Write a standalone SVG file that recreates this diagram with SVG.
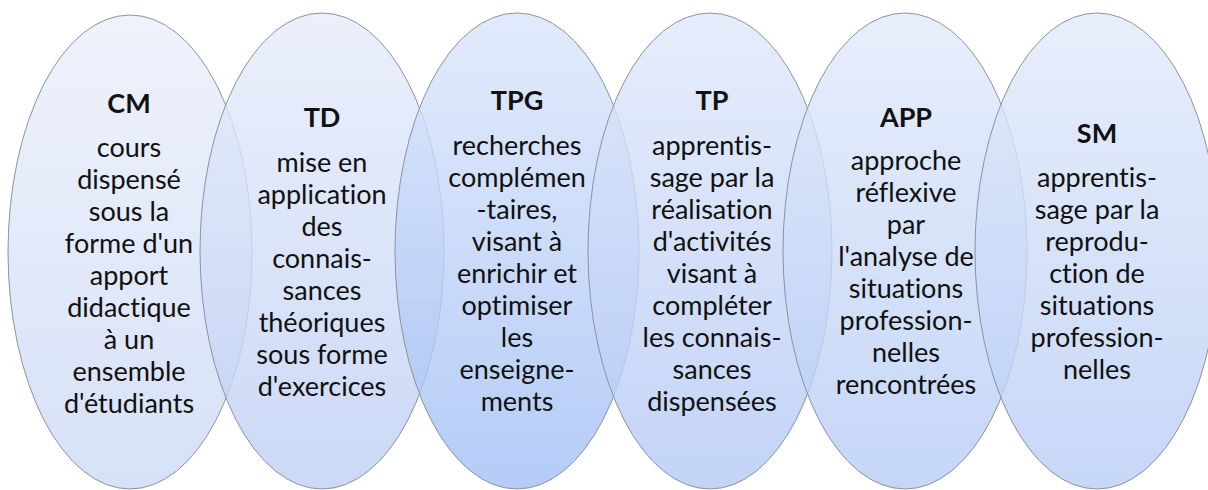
<svg xmlns="http://www.w3.org/2000/svg" width="1208" height="490" viewBox="0 0 1208 490">
<style>
.e{stroke:#8c939d;stroke-width:1;fill-opacity:0.8}
.t{font-family:Lato,"Liberation Sans",sans-serif;font-size:27px;fill:#111;text-anchor:middle;font-variant-ligatures:none;font-feature-settings:"liga" 0,"clig" 0,"dlig" 0,"calt" 0}
.h{font-weight:bold}
</style>
<defs>
<linearGradient id="g1" x1="0" y1="0" x2="0" y2="1"><stop offset="0" stop-color="#eaeffa"/><stop offset="1" stop-color="#ccd9f5"/></linearGradient>
<linearGradient id="g2" x1="0" y1="0" x2="0" y2="1"><stop offset="0" stop-color="#e6ecfa"/><stop offset="1" stop-color="#becff4"/></linearGradient>
<linearGradient id="g3" x1="0" y1="0" x2="0" y2="1"><stop offset="0" stop-color="#dbe6fb"/><stop offset="1" stop-color="#a2bff5"/></linearGradient>
<linearGradient id="g4" x1="0" y1="0" x2="0" y2="1"><stop offset="0" stop-color="#e0e8fa"/><stop offset="1" stop-color="#b4c9f5"/></linearGradient>
<linearGradient id="g5" x1="0" y1="0" x2="0" y2="1"><stop offset="0" stop-color="#e2eafa"/><stop offset="1" stop-color="#b6ccf5"/></linearGradient>
<linearGradient id="g6" x1="0" y1="0" x2="0" y2="1"><stop offset="0" stop-color="#e2eafa"/><stop offset="1" stop-color="#b8cdf5"/></linearGradient>
</defs>
<g id="shapes">
<ellipse class="e" cx="130" cy="252" rx="122" ry="237" fill="url(#g1)"/>
<ellipse class="e" cx="322" cy="251" rx="122" ry="238" fill="url(#g2)"/>
<ellipse class="e" cx="517" cy="251" rx="122" ry="238" fill="url(#g3)"/>
<ellipse class="e" cx="710" cy="251" rx="122" ry="238" fill="url(#g4)"/>
<ellipse class="e" cx="905" cy="251" rx="122" ry="238" fill="url(#g5)"/>
<ellipse class="e" cx="1097" cy="251" rx="122" ry="238" fill="url(#g6)"/>
</g>
<g id="node-CM">
<text class="t h" x="129" y="113">CM</text>
<text class="t" x="129" y="157"><tspan x="129">cours</tspan><tspan x="129" dy="32">dispensé</tspan><tspan x="129" dy="32">sous la</tspan><tspan x="129" dy="32">forme d'un</tspan><tspan x="129" dy="32">apport</tspan><tspan x="129" dy="32">didactique</tspan><tspan x="129" dy="32">à un</tspan><tspan x="129" dy="32">ensemble</tspan><tspan x="129" dy="32">d'étudiants</tspan></text>
</g>
<g id="node-TD">
<text class="t h" x="322" y="127">TD</text>
<text class="t" x="322" y="172"><tspan x="322">mise en</tspan><tspan x="322" dy="32">application</tspan><tspan x="322" dy="32">des</tspan><tspan x="322" dy="32">connais-</tspan><tspan x="322" dy="32">sances</tspan><tspan x="322" dy="32">théoriques</tspan><tspan x="322" dy="32">sous forme</tspan><tspan x="322" dy="32">d'exercices</tspan></text>
</g>
<g id="node-TPG">
<text class="t h" x="517" y="110">TPG</text>
<text class="t" x="517" y="155"><tspan x="517">recherches</tspan><tspan x="517" dy="32">complémen</tspan><tspan x="517" dy="32">-taires,</tspan><tspan x="517" dy="32">visant à</tspan><tspan x="517" dy="32">enrichir et</tspan><tspan x="517" dy="32">optimiser</tspan><tspan x="517" dy="32">les</tspan><tspan x="517" dy="32">enseigne-</tspan><tspan x="517" dy="32">ments</tspan></text>
</g>
<g id="node-TP">
<text class="t h" x="712" y="110">TP</text>
<text class="t" x="712" y="155"><tspan x="712">apprentis-</tspan><tspan x="712" dy="32">sage par la</tspan><tspan x="712" dy="32">réalisation</tspan><tspan x="712" dy="32">d'activités</tspan><tspan x="712" dy="32">visant à</tspan><tspan x="712" dy="32">compléter</tspan><tspan x="712" dy="32">les connais-</tspan><tspan x="712" dy="32">sances</tspan><tspan x="712" dy="32">dispensées</tspan></text>
</g>
<g id="node-APP">
<text class="t h" x="906" y="127">APP</text>
<text class="t" x="906" y="170"><tspan x="906">approche</tspan><tspan x="906" dy="32">réflexive</tspan><tspan x="906" dy="32">par</tspan><tspan x="906" dy="32">l'analyse de</tspan><tspan x="906" dy="32">situations</tspan><tspan x="906" dy="32">profession-</tspan><tspan x="906" dy="32">nelles</tspan><tspan x="906" dy="32">rencontrées</tspan></text>
</g>
<g id="node-SM">
<text class="t h" x="1097" y="143">SM</text>
<text class="t" x="1097" y="187"><tspan x="1097">apprentis-</tspan><tspan x="1097" dy="32">sage par la</tspan><tspan x="1097" dy="32">reprodu-</tspan><tspan x="1097" dy="32">ction de</tspan><tspan x="1097" dy="32">situations</tspan><tspan x="1097" dy="32">profession-</tspan><tspan x="1097" dy="32">nelles</tspan></text>
</g>
<g id="connectors"/>
</svg>
